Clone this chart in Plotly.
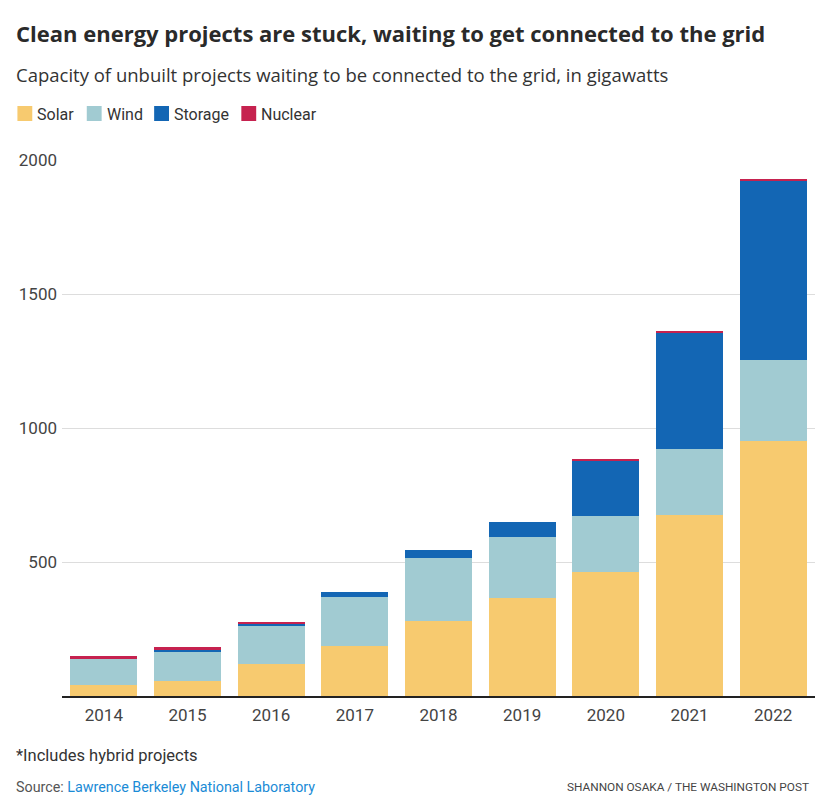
"""Clean energy interconnection queue, stacked bars by year"""

import plotly.graph_objects as go

YEARS = ["2014", "2015", "2016", "2017", "2018", "2019", "2020", "2021", "2022"]
SOLAR = [41, 56, 121, 188, 280, 367, 464, 677, 950]
WIND = [97, 108, 141, 182, 236, 228, 209, 246, 303]
STORAGE = [0, 9, 10, 19, 30, 55, 206, 432, 671]
NUCLEAR = [11, 10, 5, 0, 0, 0, 5, 6, 6]

SERIES = [
    ("Solar", SOLAR, "#f7ca6f"),
    ("Wind", WIND, "#a1cbd2"),
    ("Storage", STORAGE, "#1366b4"),
    ("Nuclear", NUCLEAR, "#c6224f"),
]

FONT = "Roboto"
TEXT = "#2a2a2a"

# page body has an 8px margin, so the figure is drawn 8px in from the window edge
OFFSET = 8
W, H = 826 - OFFSET, 803 - OFFSET
PLOT_LEFT, PLOT_RIGHT, PLOT_TOP, PLOT_BOTTOM = 55, 815, 160, 696  # window pixels


def px_x(x):
    """window pixel x -> paper x"""
    return (x - PLOT_LEFT) / (PLOT_RIGHT - PLOT_LEFT)


def px_y(y):
    """window pixel y -> paper y"""
    return (PLOT_BOTTOM - y) / (PLOT_BOTTOM - PLOT_TOP)


def build_figure():
    fig = go.Figure()

    for name, values, color in SERIES:
        fig.add_trace(go.Bar(x=YEARS, y=values, name=name, showlegend=False,
                             marker=dict(color=color, line=dict(width=0))))

    fig.update_layout(
        barmode="stack",
        bargap=0.2,
        width=W,
        height=H,
        margin=dict(l=PLOT_LEFT - OFFSET, r=W - (PLOT_RIGHT - OFFSET),
                    t=PLOT_TOP - OFFSET, b=H - (PLOT_BOTTOM - OFFSET)),
        plot_bgcolor="white",
        paper_bgcolor="white",
        font=dict(family=FONT, size=16, color="#444"),
    )

    fig.update_yaxes(
        range=[0, 2000],
        tickvals=[500, 1000, 1500, 2000],
        gridcolor="#dddddd",
        gridwidth=1,
        zeroline=False,
        showline=False,
        ticks="",
        ticklabelstandoff=4,
        tickfont=dict(size=17, color="#444"),
    )
    fig.update_xaxes(
        showline=True,
        linecolor="#222",
        linewidth=2,
        ticks="",
        ticklabelstandoff=3,
        tickfont=dict(size=17, color="#444"),
    )

    # legend drawn by hand: small squares and labels in one row
    legend_x = [10, 80, 148, 236]
    for (name, _, color), lx in zip(SERIES, legend_x):
        fig.add_shape(type="rect", xref="paper", yref="paper",
                      x0=px_x(lx), x1=px_x(lx + 15), y0=px_y(121), y1=px_y(106),
                      fillcolor=color, line=dict(width=0))
        fig.add_annotation(text=name, xref="paper", yref="paper",
                           x=px_x(lx + 18), y=px_y(114), xanchor="left", yanchor="middle",
                           showarrow=False, font=dict(size=16, color="#333"))

    texts = [
        ("<b>Clean energy projects are stuck, waiting to get connected to the grid</b>", 33,
         dict(family="Open Sans", size=22, color=TEXT)),
        ("Capacity of unbuilt projects waiting to be connected to the grid, in gigawatts", 74,
         dict(family="Open Sans", size=18.5, color="#333")),
        ("*Includes hybrid projects", 755, dict(size=16.5, color="#333")),
        ("Source: <span style='color:#1a8bd6'>Lawrence Berkeley National Laboratory</span>", 787,
         dict(size=14.3, color="#555")),
    ]
    for text, y, font in texts:
        fig.add_annotation(text=text, xref="paper", yref="paper",
                           x=px_x(7), y=px_y(y), xanchor="left", yanchor="middle",
                           showarrow=False, font=font)
    fig.add_annotation(
        text="SHANNON OSAKA / THE WASHINGTON POST", xref="paper", yref="paper",
        x=px_x(811), y=px_y(787), xanchor="right", yanchor="middle",
        showarrow=False, font=dict(size=11.8, color="#444"),
    )

    # thin rule along the top of the page
    fig.add_shape(type="line", xref="paper", yref="paper",
                  x0=px_x(0), x1=px_x(826), y0=px_y(4), y1=px_y(4),
                  line=dict(color="#dddddd", width=2))

    return fig


def main():
    fig = build_figure()
    fig.write_html("out.html")


main()
